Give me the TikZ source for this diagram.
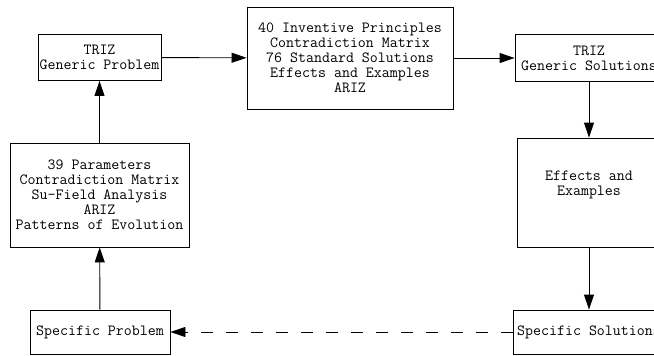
\documentclass[tikz,border=0pt]{standalone}
\usepackage{fontspec}
\usepackage{tikz}
\usetikzlibrary{arrows.meta}
\tikzset{
	blk/.style={draw, line width=0.9pt, align=center, inner sep=0pt,
		font=\ttfamily\fontsize{15.5}{15}\selectfont},
	flow/.style={line width=0.9pt, -{Triangle[length=15pt,width=10pt]}},
}

\begin{document}
\begin{tikzpicture}[x=1pt, y=-1pt]
		%%%%% START %%%%%
		\useasboundingbox (0, 0) rectangle (654, 356);
		\clip (0, 0) rectangle (654, 356);
		
		\node[blk, minimum width=123, minimum height=46] (gprob) at (99.5, 57.5) {TRIZ\\Generic Problem};
		\node[blk, minimum width=206, minimum height=102] (tools) at (350, 58) {40 Inventive Principles\\Contradiction Matrix\\76 Standard Solutions\\Effects and Examples\\ARIZ};
		\node[blk, minimum width=148, minimum height=47] (gsol) at (589, 58) {TRIZ\\Generic Solutions};
		
		\node[blk, minimum width=179, minimum height=104] (params) at (99.5, 195) {39 Parameters\\Contradiction Matrix\\Su-Field Analysis\\ARIZ\\Patterns of Evolution};
		\node[blk, minimum width=144, minimum height=109] (effects) at (589, 192.5) {};
		\node[blk, draw=none] (efftext) at (589, 185) {Effects and\\Examples};
		
		\node[blk, minimum width=140, minimum height=44] (sprob) at (100, 332) {Specific Problem};
		\node[blk, minimum width=152, minimum height=44] (ssol) at (589, 332) {Specific Solutions};
		
		\draw[flow] (gprob) -- (tools);
		\draw[flow] (tools) -- (gsol);
		\draw[flow] (gsol) -- (effects);
		\draw[flow] (effects) -- (ssol);
		\draw[flow, dash pattern=on 12pt off 13pt] (ssol) -- (sprob);
		\draw[flow] (sprob) -- (params);
		\draw[flow] (params) -- (gprob);
		%%%%% END %%%%%
	\end{tikzpicture}
\end{document}
